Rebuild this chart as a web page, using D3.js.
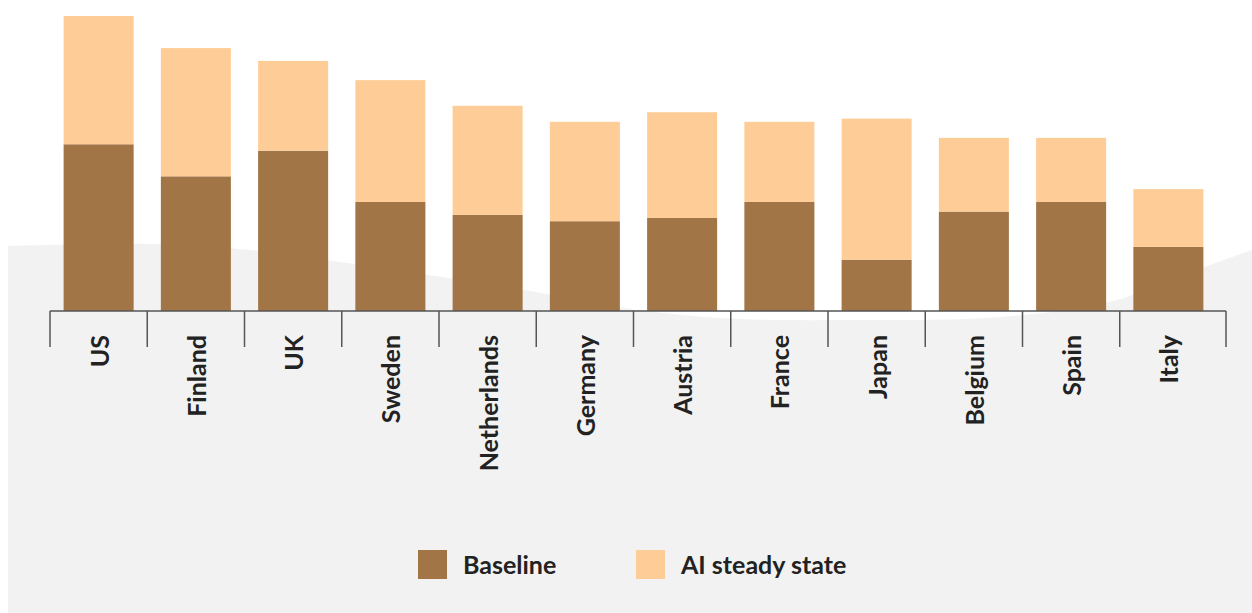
<!DOCTYPE html>
<html>
<head>
<meta charset="utf-8">
<script src="https://cdn.jsdelivr.net/npm/d3@7"></script>
<style>
  body { margin: 0; background: #fff; }
  text { font-family: Lato, "Open Sans", sans-serif; }
</style>
</head>
<body>
<div id="chart"></div>
<script>
// Chart size
const width = 1252
const height = 613

// Data
const countries = ["US", "Finland", "UK", "Sweden", "Netherlands", "Germany", "Austria", "France", "Japan", "Belgium", "Spain", "Italy"]
const baseline = [2.6, 2.1, 2.5, 1.7, 1.5, 1.4, 1.45, 1.7, 0.8, 1.55, 1.7, 1.0]
const aiSteady = [4.6, 4.1, 3.9, 3.6, 3.2, 2.95, 3.1, 2.95, 3.0, 2.7, 2.7, 1.9]
const seriesNames = ["Baseline", "AI steady state"]
const colors = ["#a27547", "#fecd97"]

// background wave outline (decoration only)
const wave = [[8, 246], [150, 244], [250, 250], [340, 262], [435, 276], [530, 291], [610, 306], [720, 318], [860, 320], [1000, 317], [1110, 302], [1180, 276], [1252, 250]]

const svg = d3.select("#chart")
    .append("svg")
    .attr("width", width)
    .attr("height", height)

// gray backdrop with curvy top
const bgLine = d3.line().curve(d3.curveCatmullRom)
svg.append("path")
    .attr("d", bgLine(wave) + "L1252,613L8,613Z")
    .attr("fill", "#f2f2f2")

const x = d3.scaleBand()
    .domain(countries)
    .range([50, 1217])
    .paddingInner(0.28)
    .paddingOuter(0.14)

const y = d3.scaleLinear()
    .domain([0, 4.6])
    .range([311, 16])

// stack: baseline + extra from AI
const rows = countries.map((c, i) => ({ country: c, base: baseline[i], extra: aiSteady[i] - baseline[i] }))
const stack = d3.stack().keys(["base", "extra"])(rows)

svg.append("g")
    .selectAll("g")
    .data(stack)
    .join("g")
    .attr("fill", (d, i) => colors[i])
    .selectAll("rect")
    .data(d => d)
    .join("rect")
    .attr("x", d => x(d.data.country))
    .attr("width", x.bandwidth())
    .attr("y", d => y(d[1]))
    .attr("height", d => y(d[0]) - y(d[1]))

// axis: baseline line with dividers between countries
const axis = svg.append("g").attr("stroke", "#555").attr("stroke-width", 1.5)
const step = x.step()
const edges = countries.map(c => x(c) - step * x.paddingInner() / 2)
edges.push(1226)
axis.append("line")
    .attr("x1", edges[0]).attr("x2", edges[edges.length - 1])
    .attr("y1", y(0)).attr("y2", y(0))
axis.selectAll(".tick")
    .data(edges)
    .join("line")
    .attr("x1", d => d).attr("x2", d => d)
    .attr("y1", y(0)).attr("y2", y(0) + 36)

// country labels, rotated
svg.append("g")
    .selectAll("text")
    .data(countries)
    .join("text")
    .attr("transform", d => `translate(${x(d) + x.bandwidth() / 2 + 1},${y(0) + 24}) rotate(-90)`)
    .attr("text-anchor", "end")
    .attr("dy", "0.36em")
    .attr("font-size", 25)
    .attr("font-weight", 700)
    .attr("fill", "#222")
    .text(d => d)

// legend
const legendX = [418, 636]
const legend = svg.append("g")
    .selectAll("g")
    .data(seriesNames)
    .join("g")
    .attr("transform", (d, i) => `translate(${legendX[i]},550)`)
legend.append("rect")
    .attr("width", 29).attr("height", 29)
    .attr("fill", (d, i) => colors[i])
legend.append("text")
    .attr("x", 45).attr("y", 15)
    .attr("dy", "0.35em")
    .attr("font-size", 25)
    .attr("font-weight", 700)
    .attr("fill", "#222")
    .text(d => d)
</script>
</body>
</html>
